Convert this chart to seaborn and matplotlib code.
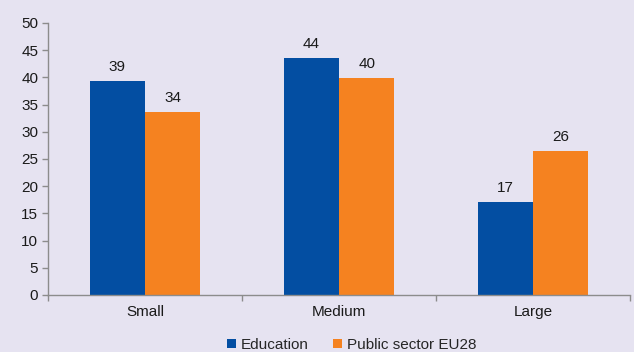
import matplotlib
matplotlib.use("Agg")
import matplotlib.pyplot as plt
import seaborn as sns
import pandas as pd
from matplotlib.ticker import FixedLocator
from matplotlib.patches import Patch

categories = ["Small", "Medium", "Large"]
education = [39.4, 43.5, 17.1]
public_sector = [33.6, 39.8, 26.4]
series_names = ["Education", "Public sector EU28"]
y_ticks = [0, 5, 10, 15, 20, 25, 30, 35, 40, 45, 50]

bg = "#E6E3F1"
colors = ["#034EA2", "#F58220"]
fs = 11

sns.set_theme(style="white")
plt.rcParams["font.family"] = ["Liberation Sans", "DejaVu Sans"]
plt.rcParams["font.size"] = fs

df = pd.DataFrame({
    "category": categories * 2,
    "value": education + public_sector,
    "series": [series_names[0]] * 3 + [series_names[1]] * 3,
})

fig = plt.figure(figsize=(6.34, 3.52), dpi=100, facecolor=bg)
ax = fig.add_axes([0.0757, 0.162, 0.918, 0.773])
ax.set_facecolor(bg)

sns.barplot(data=df, x="category", y="value", hue="series", order=categories,
            hue_order=series_names, palette=colors, width=0.57, saturation=1,
            ax=ax, legend=False, linewidth=0)

for cont in ax.containers:
    ax.bar_label(cont, labels=[f"{v:.0f}" for v in cont.datavalues], padding=5,
                 fontsize=fs, color="#1a1a1a")

ax.set_xlim(-0.5, 2.5)
ax.set_ylim(0, 50)
ax.set_yticks(y_ticks)
ax.set_xlabel("")
ax.set_ylabel("")
for s in ["top", "right"]:
    ax.spines[s].set_visible(False)
for s in ["left", "bottom"]:
    ax.spines[s].set_color("#8c8c8c")
    ax.spines[s].set_linewidth(1.0)

ax.tick_params(axis="y", which="major", length=4, width=1, color="#8c8c8c",
               direction="out", left=True, labelsize=fs, labelcolor="#1a1a1a", pad=3)
ax.tick_params(axis="x", which="major", length=0, labelsize=fs,
               labelcolor="#1a1a1a", pad=7)
ax.xaxis.set_minor_locator(FixedLocator([-0.5, 0.5, 1.5, 2.5]))
ax.tick_params(axis="x", which="minor", length=4, width=1, color="#8c8c8c",
               direction="out", bottom=True)

handles = [Patch(facecolor=c, edgecolor="none") for c in colors]
fig.legend(handles, series_names, loc="center", bbox_to_anchor=(0.555, 0.02),
           ncol=2, frameon=False, fontsize=fs, handlelength=0.6,
           handleheight=0.6, handletextpad=0.3, columnspacing=1.6)

fig.savefig("out.png", dpi=100, facecolor=bg)
